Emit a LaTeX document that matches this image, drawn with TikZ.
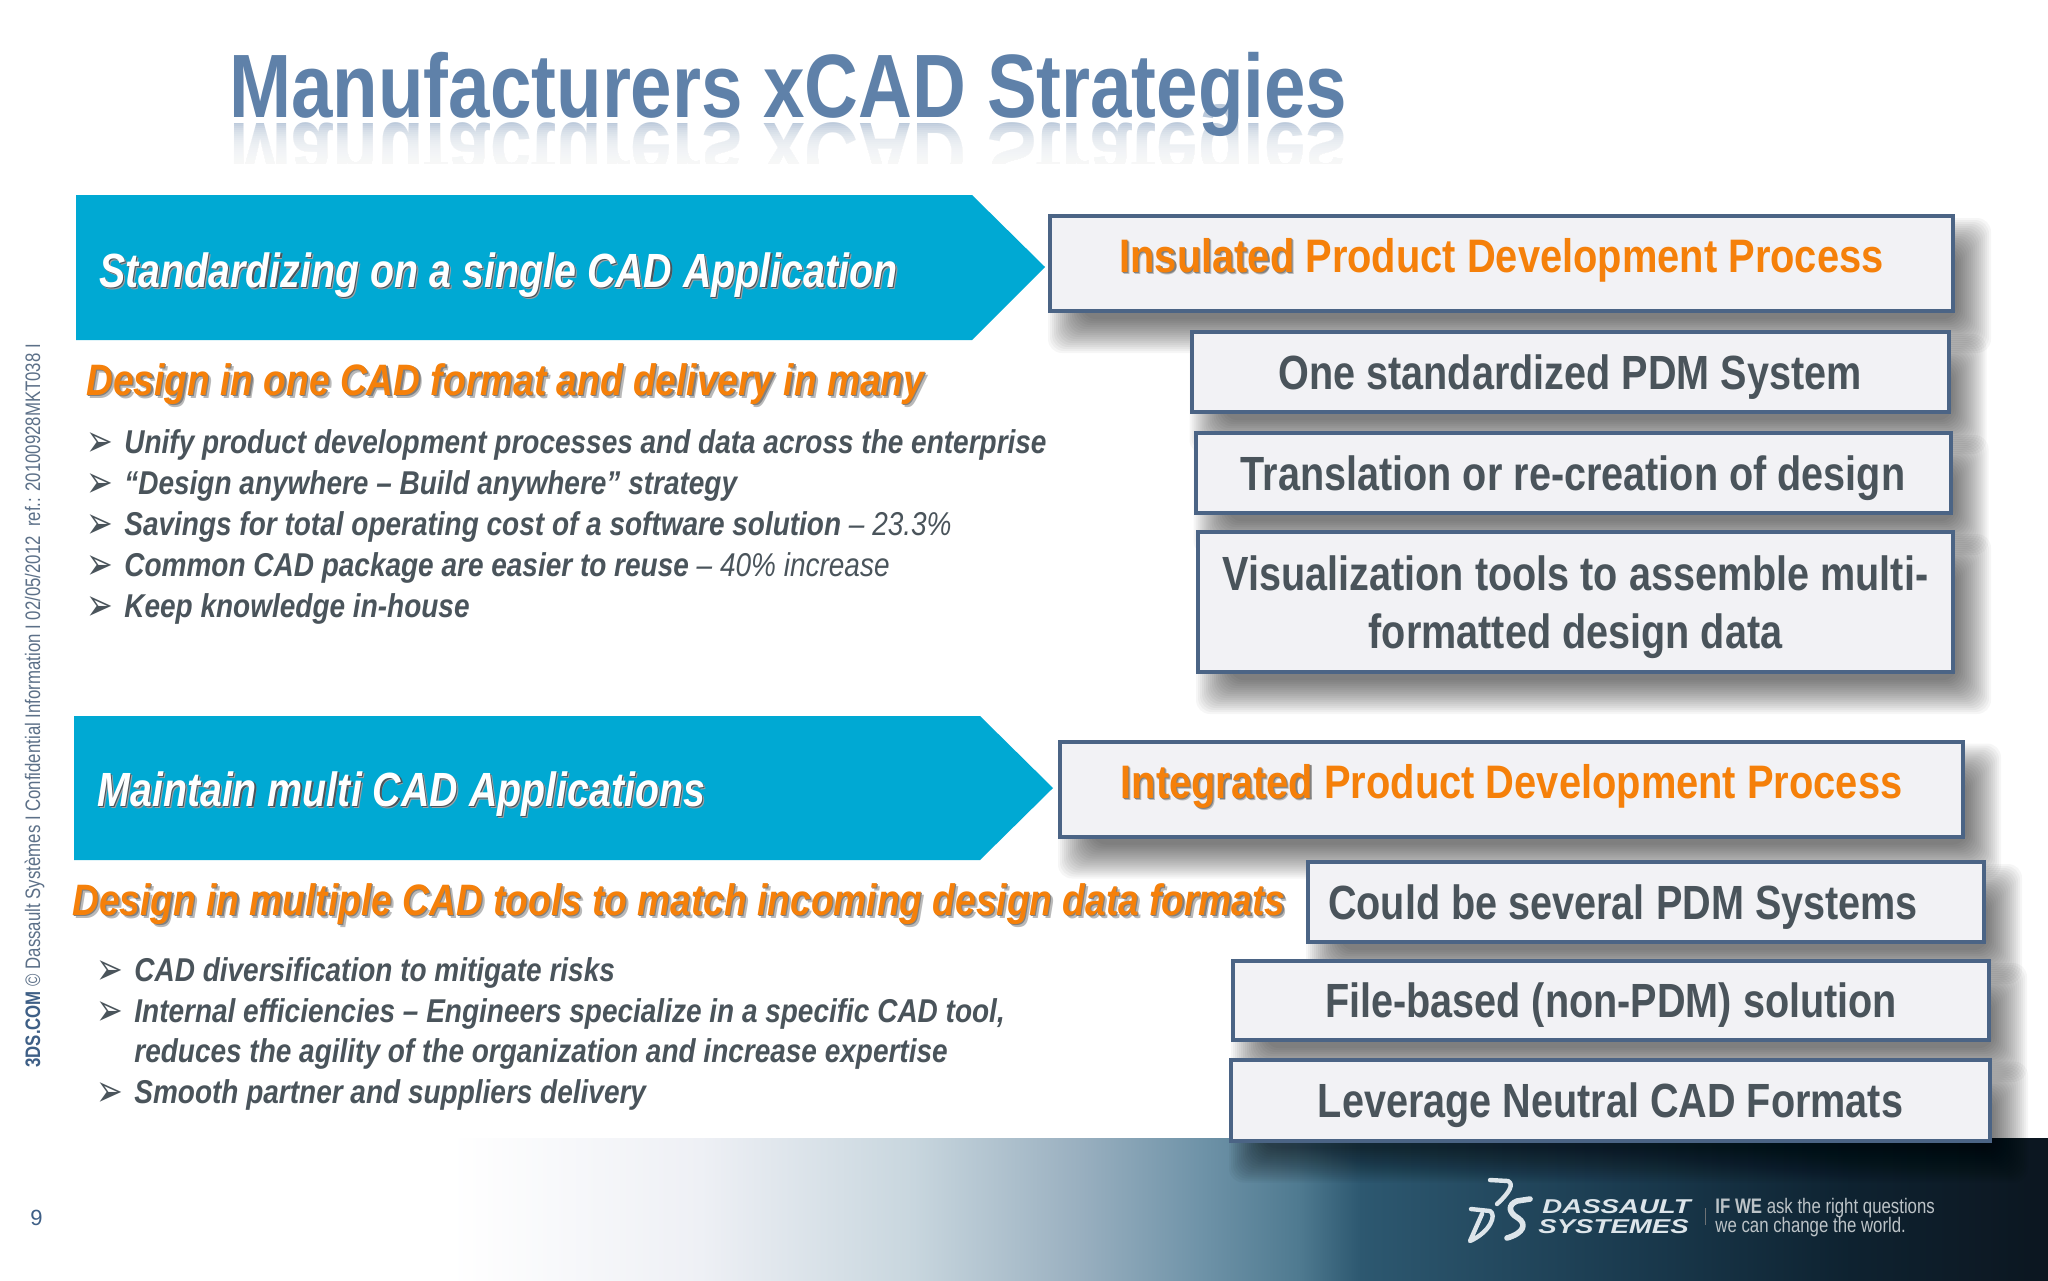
\documentclass[tikz,border=0pt]{standalone}
\usepackage{fontspec}
\setmainfont{Liberation Sans}
\newfontfamily\titlefont{Liberation Sans}[FakeStretch=0.828]
\newfontfamily\arrowfont{Liberation Sans}[FakeStretch=0.82]
\newfontfamily\headfont{Liberation Sans}[FakeStretch=0.844]
\newfontfamily\narrowfont{Liberation Sans}[FakeStretch=0.848]
\newfontfamily\boxfont{Liberation Sans}[FakeStretch=0.825]
\newfontfamily\tinyfont{Liberation Sans}[FakeStretch=0.80]
\newfontfamily\wideitfont{Liberation Sans}[FakeStretch=1.38]
\newfontfamily\bulletfont{DejaVu Sans}
\definecolor{titleblue}{HTML}{5F81A9}
\definecolor{titlepale}{HTML}{BCCADB}
\definecolor{arrowblue}{HTML}{00A9D3}
\definecolor{hotorange}{HTML}{F5800A}
\definecolor{boxedge}{HTML}{4B6485}
\definecolor{boxfill}{HTML}{F2F2F5}
\definecolor{slate}{HTML}{4A545B}
\definecolor{sidegrey}{HTML}{5C7088}
\definecolor{sideblue}{HTML}{3E5F86}
\definecolor{logopale}{HTML}{DDE5EA}
\definecolor{fadeA}{HTML}{EEF0F5}
\definecolor{fadeB}{HTML}{C8D6DE}
\definecolor{fadeC}{HTML}{9AB0C0}
\definecolor{fadeD}{HTML}{6F93A8}
\definecolor{fadeE}{HTML}{4F7A90}
\definecolor{fadeF}{HTML}{2D5870}
\definecolor{fadeG}{HTML}{1A3A4E}
\definecolor{fadeH}{HTML}{0E2230}
\definecolor{fadeI}{HTML}{0C1620}
\pgfdeclarehorizontalshading{footerfade}{100bp}{
  color(0bp)=(white); color(36bp)=(white); color(42.1bp)=(fadeA); color(47.3bp)=(fadeB);
  color(51.3bp)=(fadeC); color(54.3bp)=(fadeD); color(56.7bp)=(fadeE); color(58.2bp)=(fadeF);
  color(64.9bp)=(fadeG); color(70.2bp)=(fadeH); color(75bp)=(fadeI); color(100bp)=(fadeI)}
\pgfdeclarelayer{footerlayer}
\pgfdeclarelayer{shadowlayer}
\pgfsetlayers{footerlayer,shadowlayer,main}
% text with a soft shadow under it, no second node
\newcommand\castshadow[3][1pt]{\rlap{\kern#1\raisebox{-#1}{\color{#2!55!white}#3}}\rlap{\kern.6pt\raisebox{-.6pt}{\color{#2}#3}}#3}
\newcommand\bul{\makebox[19pt][l]{\bulletfont\color{slate}\fontsize{16}{16}\selectfont\raisebox{-1.5pt}{\scalebox{1}[1.4]{➢}}}}
\tikzset{
  x=.5pt,y=-.5pt,
  titletext/.style={anchor=base west,inner sep=0,font=\titlefont\fontsize{45}{45}\selectfont\bfseries},
  arrowtext/.style={anchor=base west,inner sep=0,text=white,font=\arrowfont\fontsize{24}{24}\selectfont\bfseries\itshape},
  headtext/.style={anchor=base west,inner sep=0,text=hotorange,font=\headfont\fontsize{22}{22}\selectfont\bfseries\itshape},
  itemtext/.style={anchor=base west,inner sep=0,text=slate,font=\narrowfont\fontsize{16.5}{16.5}\selectfont\bfseries\itshape},
  procbox/.style={draw=boxedge,line width=2pt,fill=boxfill,inner sep=0,align=center,text=slate,
    text height=17.2pt,text depth=0pt,font=\boxfont\fontsize{24}{29}\selectfont\bfseries},
  prochead/.style={procbox,text=hotorange,text depth=8pt,font=\narrowfont\fontsize{23.5}{23.5}\selectfont\bfseries},
  logomark/.style={draw=logopale,line width=2.2pt,line cap=round,line join=round},
}
\begin{document}
\begin{tikzpicture}
\useasboundingbox (0,0) rectangle (2048,1280);
\begin{pgfonlayer}{footerlayer}
\fill[white] (0,0) rectangle (2048,1280);
\shade[shading=footerfade] (0,1138) rectangle (2048,1280);
\end{pgfonlayer}
% title and its reflection
\node[titletext,text=titlepale,yscale=-1,transform shape] (mirror) at (229,123) {Manufacturers xCAD Strategies};
\foreach \yy in {124,126,...,162} \fill[white,opacity=.12] (220,\yy) rectangle (1360,192);
\fill[white] (220,164) rectangle (1360,192);
\node[titletext,text=titleblue] (title) at (229,117) {Manufacturers xCAD Strategies};
% the two arrows
\fill[arrowblue] (76,195) -- (972,195) -- (1045,267) -- (972,340) -- (76,340) -- cycle;
\fill[arrowblue] (74,716) -- (980,716) -- (1053,788) -- (980,860) -- (74,860) -- cycle;
\node[arrowtext] (single) at (99,287) {\castshadow{slate}{Standardizing on a single CAD Application}};
\node[arrowtext] (multi) at (97,806) {\castshadow{slate}{Maintain multi CAD Applications}};
\node[headtext] (headA) at (86,395) {\castshadow[1.5pt]{gray}{Design in one CAD format and delivery in many}};
\node[headtext] (headB) at (72,915) {\castshadow[1.5pt]{gray}{Design in multiple CAD tools to match incoming design data formats}};
% bullet lists
\foreach \i/\yy/\txt in {1/453/{Unify product development processes and data across the enterprise},
    2/494/{“Design anywhere – Build anywhere” strategy},
    3/535/{Savings for total operating cost of a software solution {\mdseries – 23.3\%}},
    4/576/{Common CAD package are easier to reuse {\mdseries – 40\% increase}},
    5/617/{Keep knowledge in-house}}
  \node[itemtext] (itemA\i) at (86,\yy) {\bul\txt};
\foreach \i/\yy/\txt in {1/981/{\bul CAD diversification to mitigate risks},
    2/1022/{\bul Internal efficiencies – Engineers specialize in a specific CAD tool,},
    3/1062/{\hspace{19pt}reduces the agility of the organization and increase expertise},
    4/1103/{\bul Smooth partner and suppliers delivery}}
  \node[itemtext] (itemB\i) at (96,\yy) {\txt};
% process boxes
\node[prochead,minimum width=451.5pt,minimum height=47.5pt] (insulated) at (1501.5,263.5)
  {\castshadow{gray}{Insulated} Product Development Process};
\node[procbox,minimum width=378.5pt,minimum height=40pt] (onepdm) at (1570,372) {One standardized PDM System};
\node[procbox,minimum width=377.5pt,minimum height=40pt] (translate) at (1573,473) {Translation or re-creation of design};
\node[procbox,minimum width=377.5pt,minimum height=70pt,text height=46pt] (visual) at (1575.5,602) {Visualization tools to assemble multi-\\formatted design data};
\node[prochead,minimum width=451.5pt,minimum height=47.5pt] (integrated) at (1511.5,789)
  {\castshadow{gray}{Integrated} Product Development Process};
\node[procbox,minimum width=338pt,minimum height=40pt] (severalpdm) at (1646,902) {Could be several PDM Systems\hspace*{23pt}};
\node[procbox,minimum width=378pt,minimum height=39.5pt] (filebased) at (1611,1000.5) {File-based (non-PDM) solution};
\node[procbox,minimum width=379.5pt,minimum height=40.5pt] (neutral) at (1610.5,1100) {Leverage Neutral CAD Formats};
% soft shadows behind the boxes
\begin{pgfonlayer}{shadowlayer}
\foreach \boxname in {insulated,onepdm,translate,visual,integrated,severalpdm,filebased,neutral}
  \foreach \k in {0,...,17}
    \fill[black,opacity=.035,rounded corners=7pt]
      ([xshift=\k*1pt,yshift=-2pt-\k*1pt]\boxname.north west) rectangle ([xshift=18pt-\k*1pt,yshift=-20pt+\k*1pt]\boxname.south east);
\end{pgfonlayer}
% side line and page number
\node[rotate=90,anchor=base west,inner sep=0,text=sidegrey,font=\tinyfont\fontsize{10.5}{10.5}\selectfont] (sideline) at (40,1068)
  {{\bfseries\color{sideblue}3DS.COM} © Dassault Systèmes I Confidential Information I 02/05/2012\ \ ref.: 20100928MKT038 I};
\node[anchor=base west,inner sep=0,text=sideblue,font=\fontsize{11}{11}\selectfont] (page) at (30,1225) {9};
% logo
\draw[logomark] (1490,1180) -- (1508,1181) .. controls (1514,1184) and (1510,1192) .. (1497,1204);
\draw[logomark] (1471,1209) -- (1490,1211) .. controls (1497,1215) and (1490,1232) .. (1470,1241) -- (1482,1214);
\draw[logomark,line width=2.8pt] (1530,1199) -- (1517,1201) .. controls (1507,1205) and (1509,1213) .. (1518,1218)
  .. controls (1527,1224) and (1524,1233) .. (1507,1238);
\node[anchor=base west,inner sep=0,text=logopale,font=\wideitfont\fontsize{10}{10}\selectfont\bfseries\itshape] (dassault) at (1542,1213) {DASSAULT};
\node[anchor=base west,inner sep=0,text=logopale,font=\wideitfont\fontsize{10}{10}\selectfont\bfseries\itshape] (systemes) at (1538,1233) {SYSTEMES};
\draw[logopale!50!black] (1705,1208) -- (1705,1225);
\node[anchor=base west,inner sep=0,text=logopale!85!black,font=\tinyfont\fontsize{10.5}{10.5}\selectfont] (askline) at (1715,1213) {{\bfseries IF WE} ask the right questions};
\node[anchor=base west,inner sep=0,text=logopale!85!black,font=\tinyfont\fontsize{10.5}{10.5}\selectfont] (worldline) at (1715,1232) {we can change the world.};
\end{tikzpicture}
\end{document}
